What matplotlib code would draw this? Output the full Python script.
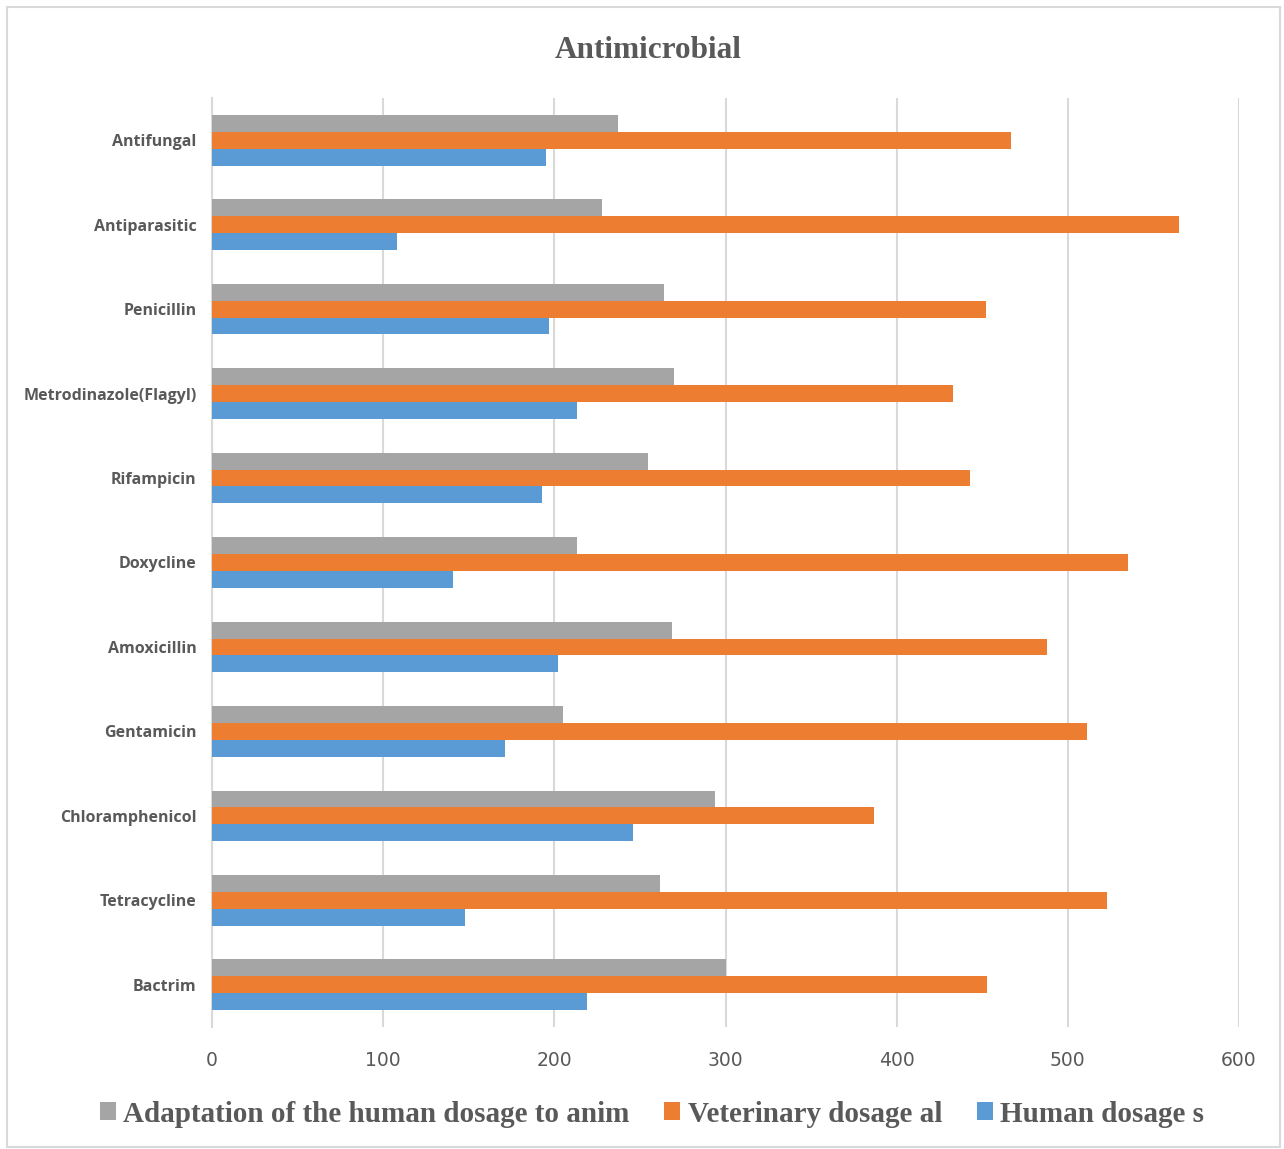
import numpy as np
import matplotlib.pyplot as plt
from matplotlib.patches import Rectangle

# categories listed bottom -> top (as in the chart)
categories = ["Bactrim", "Tetracycline", "Chloramphenicol", "Gentamicin", "Amoxicillin",
              "Doxycline", "Rifampicin", "Metrodinazole(Flagyl)", "Penicillin",
              "Antiparasitic", "Antifungal"]
human = [219, 148, 246, 171, 202, 141, 193, 213, 197, 108, 195]
veterinary = [453, 523, 387, 511, 488, 535, 443, 433, 452, 565, 467]
adaptation = [300, 262, 294, 205, 269, 213, 255, 270, 264, 228, 237]
series_names = ["Adaptation of the human dosage to anim", "Veterinary dosage al", "Human dosage s"]

GRAY = "#A5A5A5"
ORANGE = "#ED7D31"
BLUE = "#5B9BD5"
TXT = "#595959"

fig = plt.figure(figsize=(12.84, 11.49), dpi=100)
fig.patches.append(Rectangle((7 / 1284, 1 - 1147 / 1149), 1273 / 1284, 1140 / 1149,
                             transform=fig.transFigure, fill=False,
                             edgecolor="#d9d9d9", linewidth=1.5))
ax = fig.add_axes([212 / 1284, 1 - 1027 / 1149, (1239 - 212) / 1284, (1027 - 98) / 1149])

y = np.arange(len(categories))
h = 0.2
ax.barh(y + h, adaptation, height=h, color=GRAY, label=series_names[0], zorder=3)
ax.barh(y, veterinary, height=h, color=ORANGE, label=series_names[1], zorder=3)
ax.barh(y - h, human, height=h, color=BLUE, label=series_names[2], zorder=3)

ax.set_xlim(0, 600)
ax.set_ylim(-0.5, len(categories) - 0.5)
ax.set_xticks(range(0, 601, 100))
ax.set_yticks(y)
ax.set_yticklabels(categories, fontsize=11.5, fontweight="bold", color=TXT,
                   family="Open Sans")
ax.tick_params(axis="y", length=0, pad=11)
ax.tick_params(axis="x", length=0, pad=17, labelsize=13.5, labelcolor=TXT)
for lbl in ax.get_xticklabels():
    lbl.set_family("Liberation Sans Narrow")
ax.grid(axis="x", color="#d9d9d9", linewidth=1.5, zorder=0)
for s in ["top", "right", "bottom"]:
    ax.spines[s].set_visible(False)
ax.spines["left"].set_color("#d9d9d9")
ax.spines["left"].set_linewidth(1.5)

fig.text(648 / 1284, 1 - 50 / 1149, "Antimicrobial", ha="center", va="center",
         fontsize=22.5, fontweight="bold", color=TXT, family="Liberation Serif")

handles, labels = ax.get_legend_handles_labels()
leg = fig.legend(handles, labels, loc="center", bbox_to_anchor=(652 / 1284, 1 - 1114 / 1149),
                 ncol=3, frameon=False, handlelength=0.55, handleheight=0.55,
                 handletextpad=0.25, columnspacing=1.2,
                 prop={"family": "Liberation Serif", "weight": "bold", "size": 21})
for t in leg.get_texts():
    t.set_color(TXT)

fig.savefig("out.png", dpi=100)
